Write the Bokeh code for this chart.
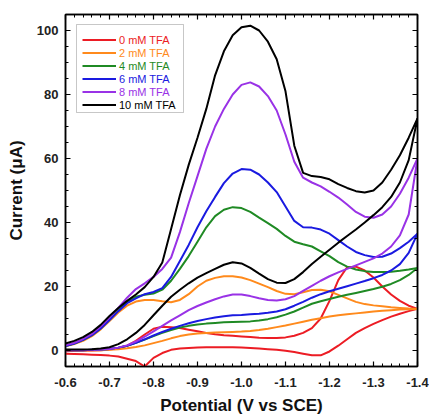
from bokeh.plotting import figure
from bokeh.models import (Range1d, LinearAxis, FixedTicker, NumeralTickFormatter,
                          CustomJSTickFormatter, Legend, LegendItem, ColumnDataSource,
                          BoxAnnotation)
from bokeh.embed import file_html
from bokeh.resources import INLINE

# ---------------- data ----------------
POTENTIAL = [-0.60, -0.62, -0.64, -0.66, -0.68, -0.70, -0.72, -0.74, -0.76, -0.78,
             -0.80, -0.82, -0.84, -0.86, -0.88, -0.90, -0.92, -0.94, -0.96, -0.98,
             -1.00, -1.02, -1.04, -1.06, -1.08, -1.10, -1.12, -1.14, -1.16, -1.18,
             -1.20, -1.22, -1.24, -1.26, -1.28, -1.30, -1.32, -1.34, -1.36, -1.38, -1.40]

LABELS = ["0 mM TFA", "2 mM TFA", "4 mM TFA", "6 mM TFA", "8 mM TFA", "10 mM TFA"]
COLORS = ["#ec1c24", "#ff8a1c", "#1f8a24", "#1a1ae0", "#9932e6", "#000000"]

fwd_0 = [-1.0, -1.1, -1.2, -1.3, -1.4, -1.6, -1.9, -2.6, -3.3, -5.0,
         -2.3, -0.8, 0.2, 0.6, 0.8, 0.9, 1.0, 1.0, 1.0, 1.0,
         0.9, 0.8, 0.6, 0.4, 0.2, -0.1, -0.5, -1.0, -1.5, -1.5,
         -0.3, 1.5, 3.5, 5.5, 7.0, 8.3, 9.5, 10.6, 11.5, 12.3, 13.0]
rev_0 = [-0.2, -0.1, 0.0, 0.0, 0.1, 0.3, 0.7, 1.5, 3.0, 5.0,
         6.8, 7.4, 7.3, 7.0, 6.5, 6.0, 5.5, 5.1, 4.8, 4.6,
         4.4, 4.2, 4.0, 3.9, 3.9, 4.1, 4.6, 5.5, 7.0, 10.0,
         15.5, 22.0, 26.0, 26.2, 25.0, 22.8, 20.0, 17.5, 15.5, 14.0, 13.0]

fwd_2 = [1.3, 2.0, 3.0, 4.5, 6.6, 9.2, 11.9, 14.0, 15.3, 15.8,
         15.8, 15.4, 15.1, 15.8, 17.6, 20.0, 21.8, 22.7, 23.2, 23.2,
         22.8, 22.0, 20.9, 19.8, 18.6, 17.7, 17.6, 18.2, 18.9, 19.0,
         18.5, 17.4, 16.3, 15.2, 14.5, 14.1, 13.8, 13.5, 13.3, 13.1, 13.0]
rev_2 = [0.0, 0.0, 0.0, 0.1, 0.1, 0.2, 0.4, 0.7, 1.1, 1.6,
         2.3, 3.0, 3.8, 4.5, 5.0, 5.3, 5.5, 5.6, 5.7, 5.8,
         5.9, 6.1, 6.4, 6.8, 7.3, 7.8, 8.4, 9.0, 9.6, 10.1,
         10.6, 11.0, 11.3, 11.6, 11.9, 12.2, 12.4, 12.6, 12.8, 12.9, 13.0]

fwd_4 = [1.4, 2.2, 3.3, 4.8, 6.9, 9.6, 12.5, 15.1, 16.8, 17.4,
         17.8, 19.0, 21.8, 25.5, 29.5, 34.0, 38.5, 42.0, 44.0, 44.8,
         44.5, 43.3, 41.5, 39.8, 38.0, 35.8, 34.0, 33.2, 32.5, 31.0,
         29.5, 27.6, 26.2, 25.3, 24.8, 24.5, 24.5, 24.6, 24.9, 25.3, 25.8]
rev_4 = [0.1, 0.1, 0.1, 0.2, 0.3, 0.5, 0.9, 1.5, 2.4, 3.4,
         4.5, 5.5, 6.4, 7.2, 7.7, 8.1, 8.4, 8.6, 8.8, 8.9,
         9.0, 9.1, 9.4, 9.8, 10.4, 11.2, 12.2, 13.4, 14.6, 15.4,
         16.1, 16.8, 17.4, 18.0, 18.6, 19.2, 19.9, 20.8, 22.0, 23.6, 25.8]

fwd_6 = [1.4, 2.2, 3.3, 4.8, 6.9, 9.5, 12.3, 14.8, 16.3, 17.6,
         18.3, 19.5, 23.0, 28.0, 33.0, 38.5, 43.5, 48.0, 52.3, 55.3,
         56.7, 56.5, 55.0, 52.5, 49.5, 45.0, 40.5, 38.5, 38.4, 37.8,
         36.5, 34.5, 32.5, 30.8, 29.8, 29.2, 29.3, 30.3, 32.0, 34.0, 36.5]
rev_6 = [0.1, 0.1, 0.1, 0.2, 0.3, 0.5, 0.9, 1.5, 2.4, 3.5,
         4.7, 5.8, 6.8, 7.7, 8.5, 9.2, 9.8, 10.3, 10.7, 11.0,
         11.1, 11.3, 11.5, 11.8, 12.2, 12.9, 14.0, 15.2, 16.5, 17.6,
         18.5, 19.3, 20.1, 20.9, 21.7, 22.6, 23.6, 25.0, 27.0, 30.5, 36.5]

fwd_8 = [1.6, 2.4, 3.6, 5.2, 7.5, 10.3, 13.3, 16.5, 19.2, 21.0,
         23.0, 25.5, 29.0, 37.0, 46.0, 54.5, 63.0, 70.0, 75.5, 80.0,
         83.0, 83.8, 82.5, 79.5, 75.0, 67.5, 59.0, 54.0, 52.5, 51.3,
         49.6, 47.8, 45.6, 43.3, 41.8, 41.5, 42.5, 45.0, 49.0, 54.0, 60.0]
rev_8 = [0.1, 0.1, 0.1, 0.2, 0.3, 0.5, 0.9, 1.6, 2.8, 4.3,
         6.0, 7.7, 9.4, 11.0, 12.6, 13.9, 15.0, 16.0, 16.9, 17.5,
         17.5, 17.0, 16.3, 15.8, 15.6, 16.0, 17.0, 18.6, 20.2, 21.8,
         23.2, 24.4, 25.5, 26.6, 27.7, 28.8, 30.3, 32.5, 36.0, 42.5, 60.0]

fwd_10 = [2.2, 3.0, 4.2, 5.8, 8.0, 10.8, 13.3, 15.5, 17.5, 19.8,
          23.0, 27.5, 38.0, 48.5, 58.0, 66.5, 75.5, 86.0, 93.5, 98.5,
          101.0, 101.5, 100.0, 96.5, 91.0, 81.0, 64.0, 55.5, 54.5, 54.2,
          53.5, 52.0, 50.8, 49.8, 49.4, 50.0, 52.5, 56.5, 61.0, 66.5, 72.5]
rev_10 = [0.3, 0.3, 0.3, 0.4, 0.6, 1.0, 2.0, 3.5, 5.5, 8.0,
          11.0, 14.0, 16.8, 19.0, 21.0, 22.8, 24.2, 25.5, 26.8, 27.6,
          27.2, 25.8, 24.0, 22.3, 21.2, 21.1, 22.3, 24.5, 27.0, 29.3,
          31.5, 33.7, 35.8, 37.8, 40.0, 42.3, 44.8, 48.0, 52.5, 59.5, 72.5]

FORWARD = [fwd_0, fwd_2, fwd_4, fwd_6, fwd_8, fwd_10]
REVERSE = [rev_0, rev_2, rev_4, rev_6, rev_8, rev_10]

X_TICKS = [-0.6, -0.7, -0.8, -0.9, -1.0, -1.1, -1.2, -1.3, -1.4]
Y_TICKS = [0, 20, 40, 60, 80, 100]
X_MINOR = [round(-0.6 - 0.02 * i, 2) for i in range(41)]
Y_MINOR = [-5 + 5 * i for i in range(23)]

FONT = "Liberation Sans"

# ---------------- figure ----------------
p = figure(width=429, height=417, output_backend="svg", toolbar_location=None,
           x_range=Range1d(-0.6, -1.4), y_range=Range1d(-5, 105),
           min_border_left=65, min_border_right=12, min_border_top=14, min_border_bottom=51,
           x_axis_label="Potential (V vs SCE)", y_axis_label="Current (μA)")
p.grid.visible = False
p.outline_line_color = "black"
p.outline_line_width = 1.5
p.background_fill_color = "white"
p.border_fill_color = "white"

xt = FixedTicker(ticks=X_TICKS, minor_ticks=X_MINOR)
yt = FixedTicker(ticks=Y_TICKS, minor_ticks=Y_MINOR)


def style(ax):
    ax.axis_line_color = "black"
    ax.axis_line_width = 1.5
    ax.major_tick_in = 5
    ax.major_tick_out = 0
    ax.minor_tick_in = 3
    ax.minor_tick_out = 0
    ax.major_tick_line_width = 1.2
    ax.minor_tick_line_width = 1.0
    ax.major_label_text_font = FONT
    ax.major_label_text_font_style = "bold"
    ax.major_label_text_font_size = "13px"
    ax.major_label_text_color = "#222222"
    ax.axis_label_text_font = FONT
    ax.axis_label_text_font_style = "bold"
    ax.axis_label_text_font_size = "17px"
    ax.axis_label_text_color = "#111111"


xa = p.xaxis[0]
ya = p.yaxis[0]
xa.ticker = xt
ya.ticker = yt
xa.formatter = NumeralTickFormatter(format="0.0")
style(xa)
style(ya)
xa.major_label_standoff = 11
xa.axis_label_standoff = 6
ya.major_label_standoff = 7
ya.axis_label_standoff = 8

blank = CustomJSTickFormatter(code="return ''")
top = LinearAxis(ticker=FixedTicker(ticks=X_TICKS, minor_ticks=X_MINOR), formatter=blank)
right = LinearAxis(ticker=FixedTicker(ticks=Y_TICKS, minor_ticks=Y_MINOR), formatter=blank)
for ax in (top, right):
    style(ax)
    ax.major_label_standoff = 0
p.add_layout(top, "above")
p.add_layout(right, "right")

# ---------------- curves ----------------
fwd_renderers = []
for fw, rv, col in zip(FORWARD, REVERSE, COLORS):
    s1 = ColumnDataSource(dict(v=POTENTIAL, i=fw))
    s2 = ColumnDataSource(dict(v=POTENTIAL, i=rv))
    r1 = p.line("v", "i", source=s1, line_color=col, line_width=2)
    p.line("v", "i", source=s2, line_color=col, line_width=2)
    fwd_renderers.append(r1)

# ---------------- legend ----------------
PAD = 5
ROW = 13
for k, (lab, col, r) in enumerate(zip(LABELS, COLORS, fwd_renderers)):
    lg = Legend(items=[LegendItem(label=lab, renderers=[r])],
                location=(12, 352 - 14 - (2 * PAD + ROW) - ROW * k),
                padding=PAD, margin=0, spacing=0,
                glyph_width=34, glyph_height=ROW, label_height=ROW, label_standoff=3,
                label_text_font=FONT, label_text_font_size="11px",
                label_text_color=col,
                border_line_alpha=0, background_fill_alpha=0)
    p.add_layout(lg)

box = BoxAnnotation(left=11, right=118, top=342, bottom=254,
                    left_units="screen", right_units="screen",
                    top_units="screen", bottom_units="screen",
                    fill_alpha=0, line_color="#444444", line_width=1)
p.add_layout(box)

open("out.html", "w").write(file_html(p, INLINE))
